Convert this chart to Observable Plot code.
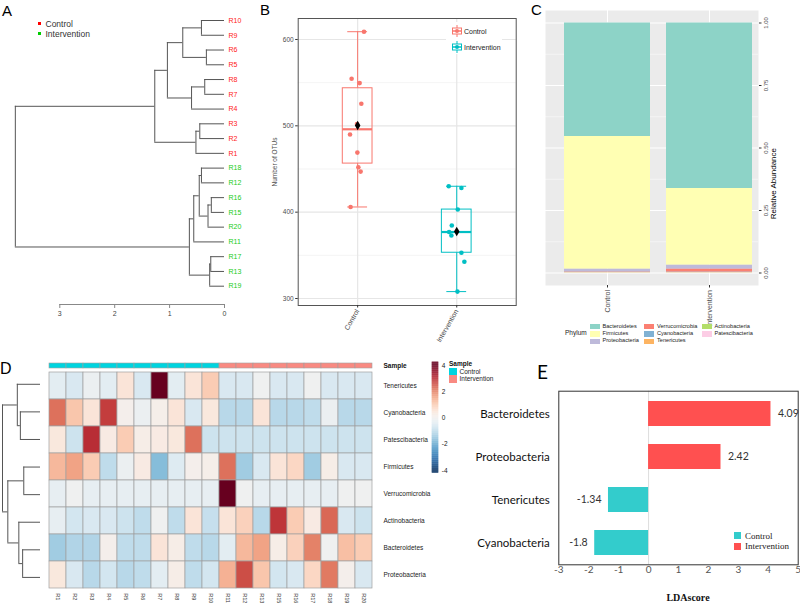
<!DOCTYPE html>
<html><head><meta charset="utf-8">
<script src="https://cdn.jsdelivr.net/npm/d3@7"></script>
<script src="https://cdn.jsdelivr.net/npm/@observablehq/plot@0.6"></script>
<style>
body{margin:0;background:#fff;}
#fig{position:relative;width:800px;height:604px;overflow:hidden;font-family:"Liberation Sans",Arial,sans-serif;background:#fff;}
.pan{position:absolute;line-height:0;}
.pan svg{overflow:visible;}
.t{position:absolute;white-space:nowrap;line-height:1;}
.sq{position:absolute;}
</style></head><body><div id="fig"></div>
<script>
// ---------------- DATA ----------------
// Panel A: sample clustering
const leafOrder = ["R10","R9","R6","R5","R8","R7","R4","R3","R2","R1","R18","R12","R16","R15","R20","R11","R17","R13","R19"];
const controlSamples = ["R1","R2","R3","R4","R5","R6","R7","R8","R9","R10"];
const sampleMerges = [
  ["a1","R10","R9",0.42],["a2","R6","R5",0.33],["a3","a1","a2",0.76],
  ["a4","R8","R7",0.36],["a5","a4","R4",0.60],["a6","a3","a5",1.04],
  ["a7","R3","R2",0.45],["a8","a7","R1",0.52],["a9","a6","a8",1.27],
  ["b1","R18","R12",0.42],["b2","R16","R15",0.24],["b3","b2","R20",0.30],
  ["b4","b1","b3",0.46],["b5","b4","R11",0.56],["b6","R17","R13",0.25],
  ["b7","b6","R19",0.27],["b8","b5","b7",0.64],["root","a9","b8",3.81]
];
const dendroTicks = [3,2,1,0];

// Panel B: OTU counts
const groups = ["Control","Intervention"];
const otuControl = [609,554.5,549.5,525.5,502,490,469,452,447,406];
const otuIntervention = [430,428,403,384.5,377,373,353,342.5,308];
const jitterControl = [0.064,-0.061,0.02,0.037,-0.007,-0.077,-0.003,0.007,0.03,-0.071];
const jitterIntervention = [-0.081,0.047,0.01,-0.05,-0.077,-0.054,0.047,0.077,0.007];
const otuTicks = [300,400,500,600];

// Panel C: relative abundance
const phyla = ["Bacteroidetes","Firmicutes","Proteobacteria","Verrucomicrobia","Cyanobacteria","Tenericutes","Actinobacteria","Patescibacteria"];
const phylumColors = ["#8DD3C7","#FFFFB3","#BEBADA","#FB8072","#80B1D3","#FDB462","#B3DE69","#FCCDE5"];
const abundControl = [0.454,0.531,0.010,0.002,0.001,0.001,0.0005,0.0005];
const abundIntervention = [0.662,0.307,0.016,0.012,0.001,0.001,0.0005,0.0005];
const abundTicks = [0,0.25,0.5,0.75,1];

// Panel D: heatmap
const heatSamples = ["R1","R2","R3","R4","R5","R6","R7","R8","R9","R10","R11","R12","R13","R15","R16","R17","R18","R19","R20"];
const heatRows = ["Tenericutes","Cyanobacteria","Patescibacteria","Firmicutes","Verrucomicrobia","Actinobacteria","Bacteroidetes","Proteobacteria"];
const zTenericutes     = [-0.4,-0.6,-0.2,-0.4,0.5,-0.6,4.2,-0.4,0.5,1.0,-0.6,-0.6,-0.1,-0.6,-0.6,-0.1,-0.6,-0.6,-0.6];
const zCyanobacteria   = [2.2,1.1,0.5,2.8,0.1,-0.2,0.15,0.5,-0.6,0.4,-1.1,-1.1,0.5,-1.1,-1.1,-1.0,-0.2,-1.1,-1.1];
const zPatescibacteria = [0.4,-0.8,3.0,0.3,1.0,0.2,0.3,0.4,2.2,-0.8,-0.8,-0.8,-0.8,-0.8,-0.8,-0.8,-0.8,-0.8,-0.8];
const zFirmicutes      = [1.3,1.6,1.0,-1.0,-0.2,0.3,-1.7,-0.5,0.1,0.15,2.2,-1.4,-0.6,0.5,0.8,-1.4,0.2,-0.6,-0.6];
const zVerrucomicrobia = [-0.3,-0.1,-0.3,-0.3,-0.3,-0.3,-0.3,-0.3,-0.3,-0.3,4.3,-0.1,-0.3,-0.3,-0.3,-0.3,-0.3,-0.1,-0.1];
const zActinobacteria  = [-0.3,-0.7,-0.6,-0.6,-0.8,-1.0,-0.1,-1.0,0.5,-0.9,0.5,0.9,-1.1,2.9,1.0,0.3,2.3,-0.6,-0.8];
const zBacteroidetes   = [-1.4,-1.2,-1.2,0.1,-1.0,-1.0,0.5,0.2,-1.0,-1.1,-0.4,1.3,1.6,0.2,0.9,2.0,-0.1,1.2,1.0];
const zProteobacteria  = [0.4,-0.6,-1.1,-0.7,-1.1,-1.0,-0.4,0.2,-1.0,-0.7,1.4,2.6,1.1,-0.7,-0.6,0.8,2.1,0.1,-0.6];
const rowMerges = [
  ["c1","Cyanobacteria","Patescibacteria",0.53],["c2","Tenericutes","c1",0.61],
  ["c3","Firmicutes","Verrucomicrobia",0.44],["c4","Bacteroidetes","Proteobacteria",0.47],
  ["c5","Actinobacteria","c4",0.57],["c6","c3","c5",0.86],["c7","c2","c6",1.0]
];
const legendTicks = [-4,-2,0,2,4];

// Panel E: LDA
const ldaTaxa = ["Bacteroidetes","Proteobacteria","Tenericutes","Cyanobacteria"];
const ldaScores = [4.09,2.42,-1.34,-1.8];
const ldaGroups = ["Intervention","Intervention","Control","Control"];
const ldaTicks = [-3,-2,-1,0,1,2,3,4,5];

// ---------------- HELPERS ----------------
const fig = document.getElementById("fig");
const SANS = "Liberation Sans, Arial, sans-serif";
function place(node, left, top){const w=document.createElement("div");w.className="pan";w.style.left=left+"px";w.style.top=top+"px";w.appendChild(node);fig.appendChild(w);}
function txt(s,x,y,css,anchor){const e=document.createElement("div");e.className="t";e.textContent=s;e.style.left=x+"px";e.style.top=y+"px";
  const ax = anchor==="middle"?"-50%":anchor==="end"?"-100%":"0";e.style.transform=`translate(${ax},-50%)`;Object.assign(e.style,css||{});fig.appendChild(e);return e;}
function sq(x,y,w,h,color,extra){const e=document.createElement("div");e.className="sq";Object.assign(e.style,{left:x+"px",top:y+"px",width:w+"px",height:h+"px",background:color},extra||{});fig.appendChild(e);}
function dendroLayout(leaves, merges){
  const pos=new Map(leaves.map((d,i)=>[d,{h:0,y:i}]));const hs=[],vs=[];
  for(const [id,a,b,h] of merges){const pa=pos.get(a),pb=pos.get(b);
    hs.push({x1:pa.h,x2:h,y:pa.y},{x1:pb.h,x2:h,y:pb.y});vs.push({x:h,y1:pa.y,y2:pb.y});pos.set(id,{h,y:(pa.y+pb.y)/2});}
  return {hs,vs,pos};
}
const ctrlSet = new Set(controlSamples);

// ---------------- PANEL A ----------------
const dA = dendroLayout(leafOrder, sampleMerges);
place(Plot.plot({
  width:260,height:330,marginLeft:59.3,marginRight:36,marginTop:20,marginBottom:26,
  style:{fontFamily:SANS,fontSize:"7px",background:"transparent",color:"#444"},
  x:{domain:[3,0]},
  y:{domain:[0,leafOrder.length-1],range:[20,285.7],axis:null},
  marks:[
    Plot.frame({anchor:"bottom",stroke:"#888"}),
    Plot.axisX({ticks:dendroTicks,tickFormat:d=>String(d),tickSize:4,tickPadding:3,stroke:"#888",fill:"#444",fontSize:7,label:null}),
    Plot.ruleY(dA.hs,{x1:"x1",x2:"x2",y:"y",stroke:"#555",strokeWidth:1}),
    Plot.ruleX(dA.vs,{x:"x",y1:"y1",y2:"y2",stroke:"#555",strokeWidth:1}),
    Plot.text(leafOrder,{x:d=>dA.pos.get(d).h,y:d=>dA.pos.get(d).y,text:d=>d,dx:4,textAnchor:"start",fontSize:7,
      fill:d=>ctrlSet.has(d)?"#FF2020":"#20CC20"})
  ]
}),0,0);
sq(37.5,21.5,3.5,3.5,"#FF0000");sq(37.5,31.5,3.5,3.5,"#00CC00");
txt("Control",45.5,23.5,{fontSize:"8.5px",color:"#333"});
txt("Intervention",45.5,33.5,{fontSize:"8.5px",color:"#333"});

// ---------------- PANEL B ----------------
const groupColor={Control:"#F8766D",Intervention:"#00BFC4"};
const groupVals={Control:otuControl,Intervention:otuIntervention};
const groupJit={Control:jitterControl,Intervention:jitterIntervention};
const otuPoints=groups.flatMap((g,gi)=>groupVals[g].map((v,i)=>({g,gi:gi+1,v,j:groupJit[g][i]})));
const boxStats=groups.map((g,i)=>{const s=groupVals[g].slice().sort(d3.ascending);
  const q1=d3.quantileSorted(s,0.25),med=d3.quantileSorted(s,0.5),q3=d3.quantileSorted(s,0.75),iqr=q3-q1;
  const lo=d3.min(s.filter(v=>v>=q1-1.5*iqr)),hi=d3.max(s.filter(v=>v<=q3+1.5*iqr));
  return {g,gi:i+1,q1,med,q3,lo,hi,mean:d3.mean(s)};});
const BW=0.3, CW=0.2;
const gcol=d=>groupColor[d.g];
place(Plot.plot({
  width:270,height:340,marginLeft:37.7,marginRight:14.3,marginTop:18,marginBottom:35,
  style:{fontFamily:SANS,fontSize:"7px",background:"transparent",color:"#4D4D4D"},
  x:{domain:[0.4,2.6]},
  y:{domain:[291.9,624.3]},
  marks:[
    Plot.gridY([350,450,550],{stroke:"#EDEDED",strokeOpacity:1,strokeWidth:0.6}),
    Plot.gridY(otuTicks,{stroke:"#E6E6E6",strokeOpacity:1,strokeWidth:1.2}),
    Plot.gridX([1,2],{stroke:"#E6E6E6",strokeOpacity:1,strokeWidth:1.2}),
    Plot.frame({stroke:"#555",strokeWidth:1}),
    Plot.axisY({ticks:otuTicks,tickSize:2.5,tickPadding:2,fontSize:6.5,fill:"#4D4D4D",stroke:"#333",label:"Number of OTUs",labelAnchor:"center",labelOffset:26,labelArrow:"none"}),
    Plot.axisX({ticks:[1,2],tickFormat:d=>groups[d-1],tickRotate:-60,tickSize:2.5,tickPadding:2,fontSize:7,fill:"#4D4D4D",stroke:"#333",label:null}),
    Plot.ruleX(boxStats,{x:"gi",y1:"lo",y2:"q1",stroke:gcol}),
    Plot.ruleX(boxStats,{x:"gi",y1:"q3",y2:"hi",stroke:gcol}),
    Plot.ruleY(boxStats,{y:"hi",x1:d=>d.gi-CW/2,x2:d=>d.gi+CW/2,stroke:gcol}),
    Plot.ruleY(boxStats,{y:"lo",x1:d=>d.gi-CW/2,x2:d=>d.gi+CW/2,stroke:gcol}),
    Plot.rect(boxStats,{x1:d=>d.gi-BW/2,x2:d=>d.gi+BW/2,y1:"q1",y2:"q3",fill:"none",stroke:gcol,strokeWidth:1}),
    Plot.ruleY(boxStats,{y:"med",x1:d=>d.gi-BW/2,x2:d=>d.gi+BW/2,stroke:gcol,strokeWidth:2.2}),
    Plot.dot(otuPoints,{x:d=>d.gi+d.j,y:"v",r:2.3,fill:gcol,stroke:null}),
    Plot.dot(boxStats,{x:"gi",y:"mean",symbol:"diamond",r:2.9,fill:"black",stroke:null})
  ]
}),260,0);
// legend B
(function(){
  const bg=document.createElement("div");bg.className="sq";Object.assign(bg.style,{left:"446px",top:"22px",width:"56px",height:"32px",background:"#fff"});fig.appendChild(bg);
  [["Control",31],["Intervention",46.5]].forEach(([g,y])=>{
    const c=groupColor[g];
    const s=document.createElementNS("http://www.w3.org/2000/svg","svg");
    s.setAttribute("width","12");s.setAttribute("height","12");
    s.style.position="absolute";s.style.left="450.5px";s.style.top=(y-6)+"px";
    s.innerHTML=`<line x1="6" y1="0" x2="6" y2="12" stroke="${c}" stroke-width="1"/><rect x="1.5" y="3" width="9" height="6" fill="#fff" stroke="${c}" stroke-width="1"/><line x1="1.5" y1="6" x2="10.5" y2="6" stroke="${c}" stroke-width="1.5"/><circle cx="6" cy="6" r="2" fill="${c}"/>`;
    fig.appendChild(s);
    txt(g,464,y,{fontSize:"7px",color:"#222"});
  });
})();

// ---------------- PANEL C ----------------
const abundData=[...phyla.map((p,i)=>({group:"Control",phylum:p,value:abundControl[i]})),
                 ...phyla.map((p,i)=>({group:"Intervention",phylum:p,value:abundIntervention[i]}))];
place(Plot.plot({
  width:270,height:325,marginLeft:15,marginRight:42,marginTop:10,marginBottom:40,
  style:{fontFamily:SANS,fontSize:"6px",background:"transparent",color:"#4D4D4D"},
  x:{domain:groups,paddingInner:0.153,paddingOuter:0.117,align:0.76},
  y:{domain:[-0.05,1.05]},
  color:{domain:phyla,range:phylumColors},
  marks:[
    Plot.frame({fill:"#EBEBEB",stroke:null}),
    Plot.gridY([0.125,0.375,0.625,0.875],{stroke:"#fff",strokeOpacity:1,strokeWidth:0.5}),
    Plot.gridY(abundTicks,{stroke:"#fff",strokeOpacity:1,strokeWidth:1}),
    Plot.gridX(groups,{stroke:"#fff",strokeOpacity:1,strokeWidth:1}),
    Plot.barY(abundData,Plot.stackY({order:phyla.slice().reverse(),x:"group",y:"value",fill:"phylum"})),
    Plot.axisY({anchor:"right",ticks:abundTicks,tickFormat:d3.format(".2f"),tickSize:2.5,tickPadding:2.5,tickRotate:-90,textAnchor:"middle",lineAnchor:"top",fontSize:6,fill:"#4D4D4D",stroke:"#333",label:null}),
    Plot.axisX({tickRotate:-90,tickSize:2.5,tickPadding:2,textAnchor:"end",lineAnchor:"middle",fontSize:7,fill:"#4D4D4D",stroke:"#333",label:null}),
    Plot.text(["Relative Abundance"],{frameAnchor:"right",dx:12,rotate:-90,lineAnchor:"top",fontSize:8,fill:"#000"})
  ]
}),530,0);
// legend C
txt("Phylum",565,333,{fontSize:"6.5px",color:"#222"});
(function(){
  const cols=[[589.5,602.5],[644,657],[701.5,714.5]];const rows=[326.7,334,341.3];
  phyla.forEach((p,i)=>{const c=Math.floor(i/3),r=i%3;
    sq(cols[c][0],rows[r]-2.8,10,5.6,phylumColors[i]);
    txt(p,cols[c][1],rows[r],{fontSize:"5.6px",color:"#222"});});
})();

// ---------------- PANEL D ----------------
const zByRow={Tenericutes:zTenericutes,Cyanobacteria:zCyanobacteria,Patescibacteria:zPatescibacteria,Firmicutes:zFirmicutes,
  Verrucomicrobia:zVerrucomicrobia,Actinobacteria:zActinobacteria,Bacteroidetes:zBacteroidetes,Proteobacteria:zProteobacteria};
const heatData=heatRows.flatMap(r=>heatSamples.map((s,i)=>({row:r,sample:s,z:zByRow[r][i]})));
const heatColor={type:"linear",domain:[-4,4],scheme:"rdbu",reverse:true,clamp:true};
const annColor={Control:"#00D4DF",Intervention:"#F98A82"};
const sampleGroup=s=>ctrlSet.has(s)?"Control":"Intervention";
// heatmap
place(Plot.plot({
  width:530,height:249,marginLeft:40,marginRight:150,marginTop:15,marginBottom:13.3,
  style:{fontFamily:SANS,fontSize:"6.5px",background:"transparent",color:"#222"},
  x:{domain:heatSamples,padding:0},
  y:{domain:heatRows,padding:0},
  color:heatColor,
  marks:[
    Plot.cell(heatData,{x:"sample",y:"row",fill:"z",stroke:"#A0A0A0",strokeWidth:0.7}),
    Plot.axisY({anchor:"right",tickSize:0,tickPadding:3,fontSize:6.5,fill:"#222",label:null}),
    Plot.axisX({anchor:"bottom",tickSize:0,tickPadding:2,tickRotate:90,textAnchor:"start",lineAnchor:"middle",fontSize:5.5,fill:"#333",label:null})
  ]
}),0,355);
// annotation bar
place(Plot.plot({
  width:530,height:10,marginLeft:40,marginRight:150,marginTop:2.7,marginBottom:1.7,
  style:{fontFamily:SANS,fontSize:"6.5px",background:"transparent"},
  x:{domain:heatSamples,padding:0,axis:null},
  y:{domain:["Sample"],padding:0},
  marks:[
    Plot.cell(heatSamples,{x:d=>d,y:()=>"Sample",fill:d=>annColor[sampleGroup(d)],stroke:"#A0A0A0",strokeWidth:0.6}),
    Plot.axisY({anchor:"right",tickSize:0,tickPadding:3,fontSize:6.5,fontWeight:"bold",fill:"#111",label:null})
  ]
}),0,360);
// row dendrogram
const dD=dendroLayout(heatRows,rowMerges);
place(Plot.plot({
  width:42,height:249,marginLeft:2,marginRight:2,marginTop:15,marginBottom:13.3,
  style:{background:"transparent"},
  x:{domain:[1,0],axis:null},
  y:{domain:[-0.5,heatRows.length-0.5],reverse:true,axis:null},
  marks:[
    Plot.ruleY(dD.hs,{x1:"x1",x2:"x2",y:"y",stroke:"#555",strokeWidth:1}),
    Plot.ruleX(dD.vs,{x:"x",y1:"y1",y2:"y2",stroke:"#555",strokeWidth:1})
  ]
}),0,355);
// colour bar
const cbStep=0.05;
const cbStops=d3.range(-4.2,4.25,cbStep);
place(Plot.plot({
  width:40,height:125,marginLeft:6.7,marginRight:26.7,marginTop:6.7,marginBottom:7.3,
  style:{fontFamily:SANS,fontSize:"6.5px",background:"transparent",color:"#222"},
  x:{domain:[0,1],axis:null},
  y:{domain:[-4.2,4.25]},
  color:heatColor,
  marks:[
    Plot.rect(cbStops,{x1:0,x2:1,y1:d=>d,y2:d=>d+cbStep+0.01,fill:d=>d+cbStep/2}),
    Plot.axisY({anchor:"right",ticks:legendTicks,tickFormat:d=>String(d),tickSize:0,tickPadding:3,fontSize:6.5,fill:"#222",label:null})
  ]
}),425,355);
// sample legend
txt("Sample",449,364,{fontSize:"6.5px",fontWeight:"bold",color:"#111"});
sq(449.3,367.8,8,7.6,annColor.Control);sq(449.3,375.4,8,7.6,annColor.Intervention);
txt("Control",459.5,371.5,{fontSize:"6.5px",color:"#222"});
txt("Intervention",459.5,379.2,{fontSize:"6.5px",color:"#222"});

// ---------------- PANEL E ----------------
const ldaColor={Control:"#33CCCC",Intervention:"#FF5050"};
const ldaData=ldaTaxa.map((t,i)=>({taxon:t,score:ldaScores[i],group:ldaGroups[i]}));
place(Plot.plot({
  width:340,height:224,marginLeft:98.3,marginRight:2.3,marginTop:10.7,marginBottom:39.7,
  style:{fontFamily:"Lato, Open Sans, sans-serif",fontSize:"10px",background:"transparent",color:"#222"},
  x:{domain:[-3,5]},
  y:{domain:ldaTaxa,paddingInner:0.43,paddingOuter:0.215},
  marks:[
    Plot.ruleX([0],{stroke:"#DDDDDD",strokeWidth:1}),
    Plot.barX(ldaData,{x:"score",y:"taxon",fill:d=>ldaColor[d.group]}),
    Plot.text(ldaData.filter(d=>d.score>=0),{x:"score",y:"taxon",text:d=>String(d.score),dx:7,textAnchor:"start",fontSize:10.5,fill:"#333"}),
    Plot.text(ldaData.filter(d=>d.score<0),{x:"score",y:"taxon",text:d=>String(d.score),dx:-7,textAnchor:"end",fontSize:10.5,fill:"#333"}),
    Plot.frame({stroke:"#333",strokeWidth:1}),
    Plot.axisY({tickSize:0,tickPadding:9,fontSize:11.5,fill:"#111",label:null}),
    Plot.axisX({ticks:ldaTicks,tickFormat:d=>String(d),tickSize:0,tickPadding:1,fontSize:10,fill:"#555",label:null})
  ]
}),460,380);
txt("LDAscore",688,598,{fontSize:"10px",fontWeight:"bold",fontFamily:"Liberation Serif, Times New Roman, serif",color:"#111"},"middle");
sq(734,532,6.5,7,ldaColor.Control);sq(734,542.7,6.5,7,ldaColor.Intervention);
txt("Control",745,535.5,{fontSize:"9px",fontFamily:"Liberation Serif, serif",color:"#222"});
txt("Intervention",745,546.2,{fontSize:"9px",fontFamily:"Liberation Serif, serif",color:"#222"});

// ---------------- PANEL LETTERS ----------------
txt("A",2,10,{fontSize:"15px",color:"#000"});
txt("B",260,9,{fontSize:"15px",color:"#000"});
txt("C",531,9,{fontSize:"15px",color:"#000"});
txt("D",0,368.5,{fontSize:"16px",color:"#000"});
txt("E",537,371,{fontSize:"19px",fontFamily:"Lato, sans-serif",color:"#000"});
</script></body></html>
